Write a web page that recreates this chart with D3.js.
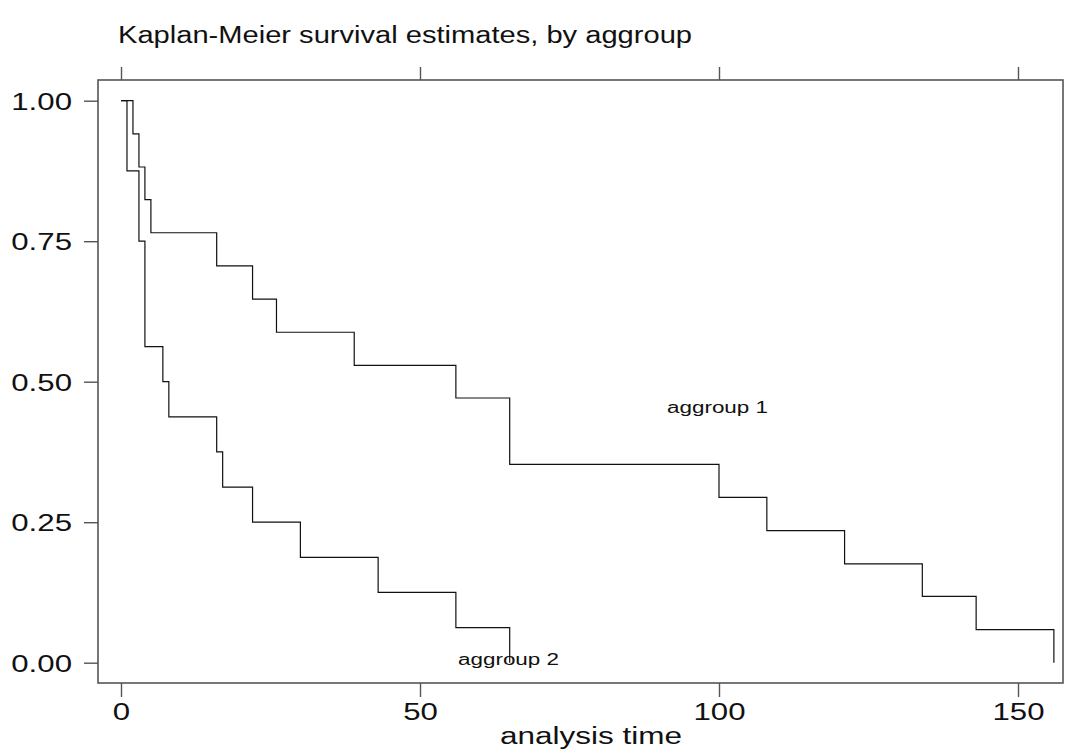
<!DOCTYPE html>
<html>
<head>
<meta charset="utf-8">
<script src="https://cdn.jsdelivr.net/npm/d3@7"></script>
<style>
  html, body { margin: 0; padding: 0; background: #fff; }
  svg text { font-family: "Liberation Sans", Arial, sans-serif; fill: #111; }
</style>
</head>
<body>
<svg id="chart" width="1075" height="752"></svg>
<script>
  // Kaplan-Meier estimates (time of each step, survival after it)
  var group1Times = [0, 2, 3, 4, 5, 16, 22, 26, 39, 56, 65, 100, 108, 121, 134, 143, 156];
  var group1Surv = [1.000, 0.941, 0.882, 0.824, 0.765, 0.706, 0.647, 0.588, 0.529, 0.471, 0.353, 0.294, 0.235, 0.176, 0.118, 0.059, 0.000];

  var group2Times = [0, 1, 3, 4, 7, 8, 16, 17, 22, 30, 43, 56, 65];
  var group2Surv = [1.000, 0.875, 0.750, 0.5625, 0.500, 0.4375, 0.375, 0.3125, 0.250, 0.1875, 0.125, 0.0625, 0.000];

  var groupLabels = ['aggroup 1', 'aggroup 2'];
  var xTicks = [0, 50, 100, 150];
  var yTicks = [0, 0.25, 0.5, 0.75, 1];

  var frame = { left: 98, right: 1063, top: 80, bottom: 683 };
  var stretch = 1.3;

  var svg = d3.select('#chart');

  var x = d3.scaleLinear().domain([0, 150]).range([121, 1018]);
  var y = d3.scaleLinear().domain([0, 1]).range([662.7, 100.7]);

  // stata-ish text is drawn wide, so pull each label out horizontally
  function widen(sel, factor) {
    sel.each(function() {
      var len = this.getComputedTextLength();
      d3.select(this)
        .attr('textLength', len * factor)
        .attr('lengthAdjust', 'spacingAndGlyphs');
    });
  }

  svg.append('text')
    .attr('x', 118)
    .attr('y', 43)
    .style('font-size', '23px')
    .text('Kaplan-Meier survival estimates, by aggroup')
    .attr('textLength', 574)
    .attr('lengthAdjust', 'spacingAndGlyphs');

  svg.append('rect')
    .attr('x', frame.left)
    .attr('y', frame.top)
    .attr('width', frame.right - frame.left)
    .attr('height', frame.bottom - frame.top)
    .attr('fill', 'none')
    .attr('stroke', '#555')
    .attr('stroke-width', 1.6);

  var xAxis = svg.append('g')
    .attr('transform', 'translate(0,' + frame.bottom + ')')
    .call(d3.axisBottom(x).tickValues(xTicks).tickFormat(d3.format('d')).tickSize(14).tickPadding(6));

  var xTop = svg.append('g')
    .attr('transform', 'translate(0,' + frame.top + ')')
    .call(d3.axisTop(x).tickValues(xTicks).tickFormat('').tickSize(13));

  var yAxis = svg.append('g')
    .attr('transform', 'translate(' + frame.left + ',0)')
    .call(d3.axisLeft(y).tickValues(yTicks).tickFormat(d3.format('.2f')).tickSize(14).tickPadding(12));

  [xAxis, xTop, yAxis].forEach(function(g) {
    g.select('.domain').remove();
    g.selectAll('.tick line')
      .attr('stroke', '#555')
      .attr('stroke-width', 1.4);
    g.selectAll('.tick text')
      .style('font-size', '24px')
      .attr('fill', '#111');
  });

  yAxis.selectAll('.tick text').attr('dy', '0.36em');
  widen(xAxis.selectAll('.tick text'), stretch);
  widen(yAxis.selectAll('.tick text'), stretch);

  svg.append('text')
    .attr('x', 591)
    .attr('y', 744)
    .attr('text-anchor', 'middle')
    .style('font-size', '23px')
    .text('analysis time')
    .attr('textLength', 182)
    .attr('lengthAdjust', 'spacingAndGlyphs');

  var step = d3.line()
    .x(function(d) { return x(d[0]); })
    .y(function(d) { return y(d[1]); })
    .curve(d3.curveStepAfter);

  var curves = [
    d3.zip(group1Times, group1Surv),
    d3.zip(group2Times, group2Surv)
  ];

  svg.selectAll('path.km')
    .data(curves)
    .enter().append('path')
    .attr('class', 'km')
    .attr('d', step)
    .attr('fill', 'none')
    .attr('stroke', '#111')
    .attr('stroke-width', 1.2);

  // curve labels sit where stata put them
  var labelPos = [
    { x: 667, y: 413 },
    { x: 458, y: 665 }
  ];

  svg.selectAll('text.km-label')
    .data(groupLabels)
    .enter().append('text')
    .attr('class', 'km-label')
    .attr('x', function(d, i) { return labelPos[i].x; })
    .attr('y', function(d, i) { return labelPos[i].y; })
    .style('font-size', '16px')
    .text(function(d) { return d; })
    .attr('textLength', 101)
    .attr('lengthAdjust', 'spacingAndGlyphs');
</script>
</body>
</html>
